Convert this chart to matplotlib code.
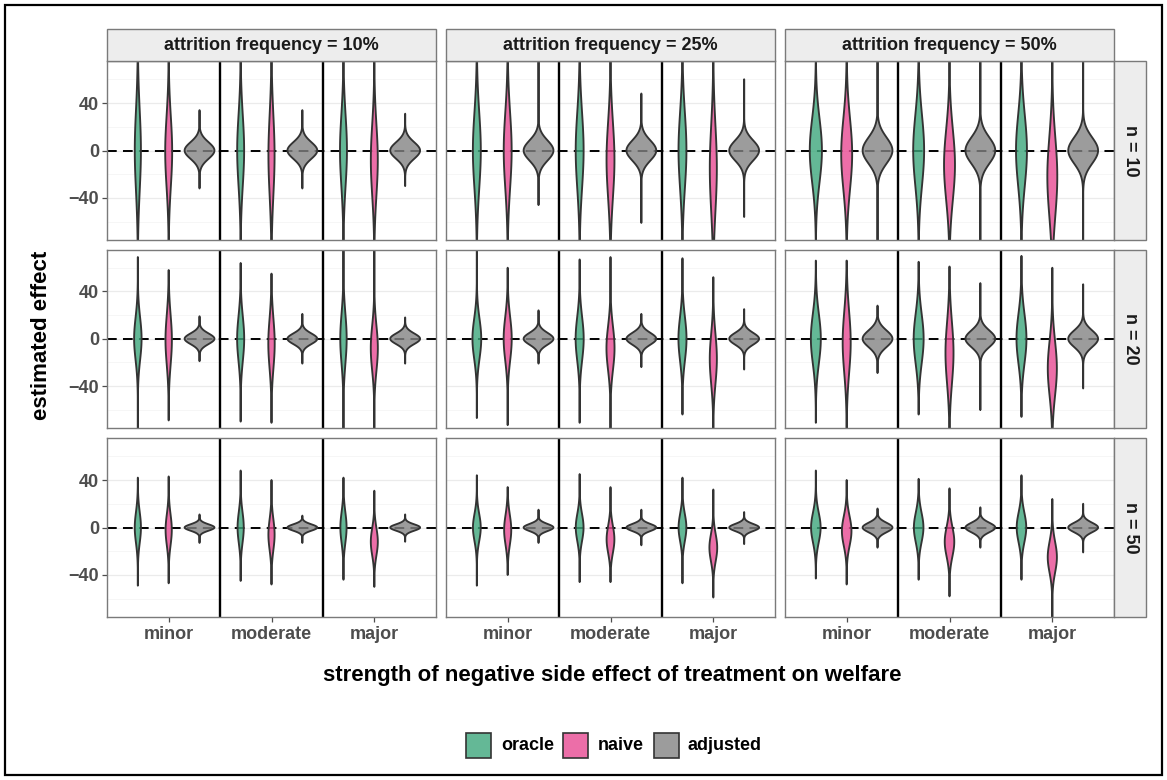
import numpy as np
import matplotlib
matplotlib.use("Agg")
import matplotlib.pyplot as plt
from matplotlib.patches import Rectangle

plt.rcParams['font.family'] = ['Liberation Sans', 'DejaVu Sans']
plt.rcParams['lines.scale_dashes'] = False

# ---------------- data ----------------
row_labels = ["n = 10", "n = 20", "n = 50"]
col_labels = ["attrition frequency = 10%", "attrition frequency = 25%", "attrition frequency = 50%"]
groups = ["minor", "moderate", "major"]
methods = ["oracle", "naive", "adjusted"]
colors = ["#3DA77C", "#E84A93", "#838383"]

# each array: [row n][col attrition][group strength]
oracle_center = [[[0, 0, 0], [0, 0, 0], [0, 0, 0]],
                 [[0, 0, 0], [0, 0, 0], [0, 0, 0]],
                 [[0, 0, 0], [0, 0, 0], [0, 0, 0]]]
oracle_sd = [[[34, 30, 30], [32, 32, 32], [27, 30, 30]],
             [[18, 19, 21], [17, 18.5, 18.5], [21, 21, 21]],
             [[13, 13, 13], [11.5, 11.5, 11.5], [12.5, 12.5, 12.5]]]
oracle_lo = [[[-90, -90, -90], [-90, -90, -90], [-90, -90, -90]],
             [[-90, -70, -90], [-67, -71, -64], [-71, -64, -66]],
             [[-49, -45, -44], [-49, -46, -47], [-43, -44, -44]]]
oracle_hi = [[[90, 90, 90], [90, 90, 90], [90, 90, 90]],
             [[69, 64, 90], [90, 67, 68], [66, 65, 70]],
             [[42, 48, 42], [44, 45, 42], [48, 41, 44]]]

naive_center = [[[-1, -4, -8], [0, -8, -15], [-3, -12, -22]],
                [[-1, -4, -8], [0, -8, -17], [-3, -12, -25]],
                [[-2, -6, -12], [-2, -10, -17], [-3, -12, -25]]]
naive_sd = [[[30, 34, 30], [32, 32, 36], [30, 30, 33]],
            [[21, 21, 19], [18.5, 18.5, 21], [26, 26, 23]],
            [[13, 13, 11.5], [12.6, 11.5, 11.5], [12.5, 12.5, 13]]]
naive_lo = [[[-90, -90, -90], [-90, -90, -90], [-90, -90, -76]],
            [[-69, -71, -90], [-73, -90, -90], [-90, -90, -90]],
            [[-47, -48, -50], [-40, -46, -59], [-48, -58, -90]]]
naive_hi = [[[90, 90, 90], [90, 90, 90], [90, 90, 90]],
            [[58, 55, 90], [60, 69, 52], [66, 61, 60]],
            [[43, 40, 31], [34, 34, 32], [40, 33, 24]]]

adjusted_center = [[[0, 0, 0], [0, 0, 0], [0, 0, 0]],
                   [[0, 0, 0], [0, 0, 0], [0, 0, 0]],
                   [[0, 0, 0], [0, 0, 0], [0, 0, 0]]]
adjusted_sd = [[[7, 7, 7], [8.5, 8.5, 8.5], [11, 11, 11]],
               [[4.5, 4.5, 4.5], [5, 5, 5], [7, 7, 7]],
               [[2.7, 2.7, 2.7], [3, 3, 3], [4, 4, 4]]]
adjusted_lo = [[[-32, -32, -30], [-46, -61, -56], [-90, -90, -90]],
               [[-19, -21, -21], [-21, -24, -26], [-29, -60, -42]],
               [[-13, -13, -12], [-13, -15, -14], [-17, -17, -21]]]
adjusted_hi = [[[34, 34, 31], [90, 48, 60], [90, 90, 90]],
               [[19, 21, 18], [24, 21, 25], [28, 47, 46]],
               [[11, 10, 11], [15, 15, 13], [16, 17, 20]]]

params = {
    "oracle": (oracle_center, oracle_sd, oracle_lo, oracle_hi),
    "naive": (naive_center, naive_sd, naive_lo, naive_hi),
    "adjusted": (adjusted_center, adjusted_sd, adjusted_lo, adjusted_hi),
}

# ---------------- layout ----------------
W, H = 1167, 780
fig = plt.figure(figsize=(W / 100, H / 100), dpi=100)


def fig_rect(x0, y0, x1, y1):
    return [x0 / W, 1 - y1 / H, (x1 - x0) / W, (y1 - y0) / H]


col_x = [(107, 436), (446, 775), (785, 1114)]
row_y = [(61, 240), (249.5, 428), (438, 617)]
strip_top = (29, 61)
strip_right = (1114, 1146)

YLIM = (-75.4, 75.4)
XLIM = (0.4, 3.6)
offsets = [-0.3, 0.0, 0.3]
half_max = 0.145
border_col = "#7A7A7A"
txt_col = "#4D4D4D"
FS = 13

for r in range(3):
    for c in range(3):
        x0, x1 = col_x[c]
        y0, y1 = row_y[r]
        ax = fig.add_axes(fig_rect(x0, y0, x1, y1))
        ax.set_xlim(*XLIM)
        ax.set_ylim(*YLIM)
        for s in ax.spines.values():
            s.set_color(border_col)
            s.set_linewidth(1.0)
            s.set_zorder(6)
        # grid
        for yv in [-60, -20, 20, 60]:
            ax.axhline(yv, color="#F3F3F3", lw=0.5, zorder=0)
        for yv in [-40, 0, 40]:
            ax.axhline(yv, color="#EBEBEB", lw=0.9, zorder=0)
        # zero reference
        ax.axhline(0, color="black", lw=1.4, linestyle=(0, (7, 4.5)), zorder=1)

        # panel-wide width normalisation (area scaling)
        peak = max(1.0 / params[m][1][r][c][g] for m in methods for g in range(3))
        for g in range(3):
            for mi, m in enumerate(methods):
                cen, sd, lo, hi = (params[m][k][r][c][g] for k in range(4))
                ys = np.linspace(lo, hi, 400)
                dens = np.exp(-0.5 * ((ys - cen) / sd) ** 2) / sd
                half = half_max * dens / peak
                xc = g + 1 + offsets[mi]
                xs = np.concatenate([xc - half, (xc + half)[::-1]])
                yy = np.concatenate([ys, ys[::-1]])
                ax.fill(xs, yy, facecolor=colors[mi], alpha=0.8,
                        edgecolor="none", zorder=2)
                ax.fill(xs, yy, facecolor="none", edgecolor="#333333",
                        lw=1.35, zorder=3, joinstyle="round")
        # group separators
        for xv in [1.5, 2.5]:
            ax.axvline(xv, color="black", lw=1.7, zorder=5)

        # ticks
        ax.set_yticks([-40, 0, 40])
        ax.set_xticks([1, 2, 3])
        ax.tick_params(axis="both", length=3.5, width=0.9, color=txt_col)
        if c == 0:
            ax.set_yticklabels(["\u221240", "0", "40"], fontsize=FS,
                               fontweight="bold", color=txt_col)
            ax.tick_params(axis="y", pad=2)
        else:
            ax.tick_params(axis="y", left=False, labelleft=False)
        if r == 2:
            ax.set_xticklabels(groups, fontsize=FS, fontweight="bold", color=txt_col)
            ax.tick_params(axis="x", pad=3)
        else:
            ax.tick_params(axis="x", bottom=False, labelbottom=False)

# top strips
for c in range(3):
    x0, x1 = col_x[c]
    fig.add_artist(Rectangle((x0 / W, 1 - strip_top[1] / H), (x1 - x0) / W,
                             (strip_top[1] - strip_top[0]) / H,
                             transform=fig.transFigure, facecolor="#EDEDED",
                             edgecolor=border_col, lw=1.0))
    fig.text((x0 + x1) / 2 / W, 1 - (strip_top[0] + strip_top[1]) / 2 / H,
             col_labels[c], ha="center", va="center", fontsize=FS,
             fontweight="bold", color="#1A1A1A")

# right strips
for r in range(3):
    y0, y1 = row_y[r]
    fig.add_artist(Rectangle((strip_right[0] / W, 1 - y1 / H),
                             (strip_right[1] - strip_right[0]) / W, (y1 - y0) / H,
                             transform=fig.transFigure, facecolor="#EDEDED",
                             edgecolor=border_col, lw=1.0))
    fig.text((strip_right[0] + strip_right[1]) / 2 / W, 1 - (y0 + y1) / 2 / H,
             row_labels[r], ha="center", va="center", rotation=-90,
             fontsize=FS, fontweight="bold", color="#1A1A1A")

# axis titles
fig.text(42 / W, 1 - 335 / H, "estimated effect", rotation=90, ha="center",
         va="center", fontsize=16, fontweight="bold", color="black")
fig.text(612 / W, 1 - 675 / H,
         "strength of negative side effect of treatment on welfare",
         ha="center", va="center", fontsize=16, fontweight="bold", color="black")

# legend
leg_sq = [466, 563, 654]
leg_tx = [501, 598, 688]
for i, m in enumerate(methods):
    fig.add_artist(Rectangle((leg_sq[i] / W, 1 - 758 / H), 25 / W, 25 / H,
                             transform=fig.transFigure, facecolor=colors[i],
                             alpha=0.8, edgecolor="none"))
    fig.add_artist(Rectangle((leg_sq[i] / W, 1 - 758 / H), 25 / W, 25 / H,
                             transform=fig.transFigure, facecolor="none",
                             edgecolor="#333333", lw=1.2))
    fig.text(leg_tx[i] / W, 1 - 745.5 / H, m, ha="left", va="center",
             fontsize=FS, fontweight="bold", color="black")

# outer frame
fig.add_artist(Rectangle((5 / W, 5 / H), (W - 10) / W, (H - 10) / H,
                         transform=fig.transFigure, facecolor="none",
                         edgecolor="black", lw=1.6))

fig.savefig("out.png", dpi=100)
